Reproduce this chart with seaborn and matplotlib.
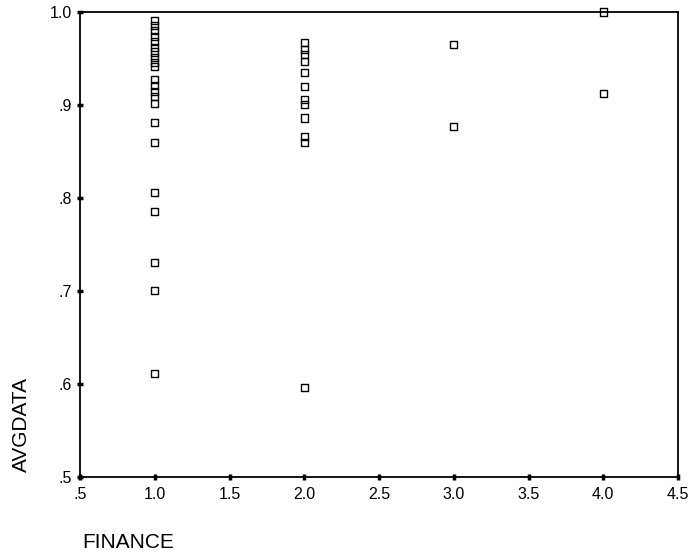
import matplotlib
matplotlib.use("Agg")
import matplotlib.pyplot as plt
import seaborn as sns
import pandas as pd

finance_1 = [0.991, 0.985, 0.980, 0.974, 0.968, 0.962, 0.957, 0.951, 0.946, 0.941,
             0.927, 0.921, 0.915, 0.909, 0.902, 0.881, 0.860, 0.806, 0.785, 0.731,
             0.701, 0.611]
finance_2 = [0.967, 0.960, 0.954, 0.947, 0.935, 0.920, 0.906, 0.901, 0.886, 0.866,
             0.860, 0.596]
finance_3 = [0.965, 0.877]
finance_4 = [1.000, 0.912]

x_ticks = [0.5, 1.0, 1.5, 2.0, 2.5, 3.0, 3.5, 4.0, 4.5]
x_tick_labels = [".5", "1.0", "1.5", "2.0", "2.5", "3.0", "3.5", "4.0", "4.5"]
y_ticks = [0.5, 0.6, 0.7, 0.8, 0.9, 1.0]
y_tick_labels = [".5", ".6", ".7", ".8", ".9", "1.0"]

rows = []
for fval, vals in [(1.0, finance_1), (2.0, finance_2), (3.0, finance_3), (4.0, finance_4)]:
    for v in vals:
        rows.append({"FINANCE": fval, "AVGDATA": v})
df = pd.DataFrame(rows)

sns.set_style("white")
plt.rcParams['font.family'] = ['Liberation Sans', 'DejaVu Sans']
plt.rcParams['text.color'] = 'black'
plt.rcParams['xtick.color'] = 'black'
plt.rcParams['ytick.color'] = 'black'

fig = plt.figure(figsize=(6.88, 5.56), dpi=100)
ax = fig.add_axes([80/688, 1 - 477/556, (678 - 80)/688, (477 - 12)/556])

sns.scatterplot(data=df, x="FINANCE", y="AVGDATA", ax=ax, marker="s", s=26,
                facecolor="none", edgecolor="black", linewidth=1.0, clip_on=False)

ax.set_xlim(0.5, 4.5)
ax.set_ylim(0.5, 1.0)
ax.set_xticks(x_ticks)
ax.set_xticklabels(x_tick_labels, fontsize=11.5, color="black")
ax.set_yticks(y_ticks)
ax.set_yticklabels(y_tick_labels, fontsize=11.5, color="black")
ax.tick_params(axis="both", direction="inout", length=4, width=2.5, color="black",
               left=True, bottom=True)
ax.tick_params(axis="x", pad=5)
ax.tick_params(axis="y", pad=4)
for sp in ax.spines.values():
    sp.set_visible(True)
    sp.set_color("black")
    sp.set_linewidth(1.3)
ax.set_xlabel("")
ax.set_ylabel("")

fig.text(21/688, 1 - 425/556, "AVGDATA", rotation=90, ha="center", va="center",
         fontsize=15, color="black")
fig.text(82/688, 1 - 543/556, "FINANCE", ha="left", va="center", fontsize=15,
         color="black")

fig.savefig("out.png", dpi=100, facecolor="white")
